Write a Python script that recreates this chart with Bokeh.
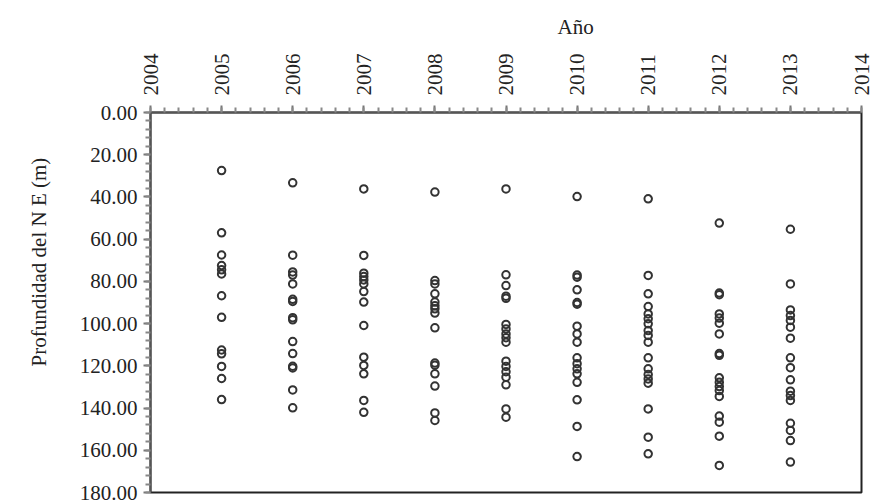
from bokeh.plotting import figure
from bokeh.models import Range1d, NumeralTickFormatter, SingleIntervalTicker, Title
from bokeh.embed import file_html
from bokeh.resources import INLINE
from math import pi

years = [2005, 2006, 2007, 2008, 2009, 2010, 2011, 2012, 2013]
d2005 = [27.5, 57.0, 67.5, 72.5, 74.5, 76.5, 86.8, 97.0, 112.5, 114.3, 120.3, 126.0, 136.0]
d2006 = [33.3, 67.6, 75.5, 77.0, 81.2, 88.5, 89.5, 97.2, 98.2, 108.5, 114.2, 120.2, 121.0, 131.4, 139.9]
d2007 = [36.2, 67.7, 76.1, 77.7, 79.3, 81.2, 84.8, 89.8, 100.9, 115.9, 119.8, 123.8, 136.4, 142.0]
d2008 = [37.7, 79.6, 81.2, 85.9, 89.8, 91.5, 93.0, 95.0, 102.0, 118.7, 119.7, 123.8, 129.6, 142.3, 145.9]
d2009 = [36.2, 76.9, 82.0, 87.0, 88.0, 100.4, 102.5, 104.9, 106.7, 108.8, 117.8, 120.3, 122.8, 125.4, 129.0, 140.4, 144.3]
d2010 = [39.8, 77.0, 78.0, 84.0, 90.0, 90.8, 101.2, 104.9, 108.8, 116.2, 119.0, 121.4, 123.8, 127.8, 136.1, 148.7, 163.0]
d2011 = [40.9, 77.2, 85.9, 91.9, 95.4, 97.7, 100.1, 103.3, 105.6, 108.8, 116.2, 121.4, 124.1, 126.2, 128.2, 140.4, 153.8, 161.7]
d2012 = [52.4, 85.5, 86.3, 95.4, 97.4, 99.8, 104.9, 114.2, 115.0, 125.7, 127.8, 129.8, 131.7, 134.5, 143.8, 146.7, 153.3, 167.2]
d2013 = [55.3, 81.2, 93.5, 96.2, 98.5, 101.7, 106.9, 116.2, 120.9, 126.6, 132.0, 134.1, 136.4, 147.2, 150.6, 155.4, 165.6]
depths = [d2005, d2006, d2007, d2008, d2009, d2010, d2011, d2012, d2013]

x_title = "Año"
y_title = "Profundidad del N E (m)"

xs, ys = [], []
for yr, vals in zip(years, depths):
    xs += [yr] * len(vals)
    ys += vals

FONT = "Liberation Serif"
TXT = "#222222"

p = figure(width=872, height=500, output_backend="svg", toolbar_location=None,
           x_range=Range1d(2004, 2014), y_range=Range1d(180, 0),
           x_axis_location="above", min_border_left=150, min_border_top=112,
           min_border_right=11, min_border_bottom=8)
p.grid.visible = False
p.outline_line_color = "#222222"
p.outline_line_width = 2
p.background_fill_color = "white"
p.border_fill_color = "white"

p.scatter(xs, ys, marker="circle", size=7.5, fill_color=None,
          line_color="#333333", line_width=2)

xa = p.xaxis[0]
xa.ticker = SingleIntervalTicker(interval=1, num_minor_ticks=5)
xa.major_label_orientation = pi / 2
for ax in (xa, p.yaxis[0]):
    ax.major_label_text_font = FONT
    ax.major_label_text_font_size = "21px"
    ax.major_label_text_color = TXT
    ax.axis_line_color = "#555555"
    ax.axis_line_width = 2
    ax.major_tick_line_color = "#777777"
    ax.minor_tick_line_color = "#888888"
    ax.major_tick_line_width = 2
    ax.minor_tick_line_width = 2
    ax.major_tick_in = 0
    ax.major_tick_out = 7
    ax.minor_tick_in = 0
    ax.minor_tick_out = 5
xa.major_label_standoff = 10

ya = p.yaxis[0]
ya.ticker = SingleIntervalTicker(interval=20, num_minor_ticks=5)
ya.formatter = NumeralTickFormatter(format="0.00")
ya.major_label_standoff = 6

p.add_layout(Title(text=x_title, text_font=FONT, text_font_size="21px",
                   text_font_style="normal", text_color=TXT,
                   align="left", offset=407, standoff=20,
                   vertical_align="top"), "above")
p.add_layout(Title(text=y_title, text_font=FONT, text_font_size="21px",
                   text_font_style="normal", text_color=TXT,
                   align="left", offset=126, standoff=48,
                   vertical_align="top"), "left")

open("out.html", "w").write(file_html(p, INLINE))
